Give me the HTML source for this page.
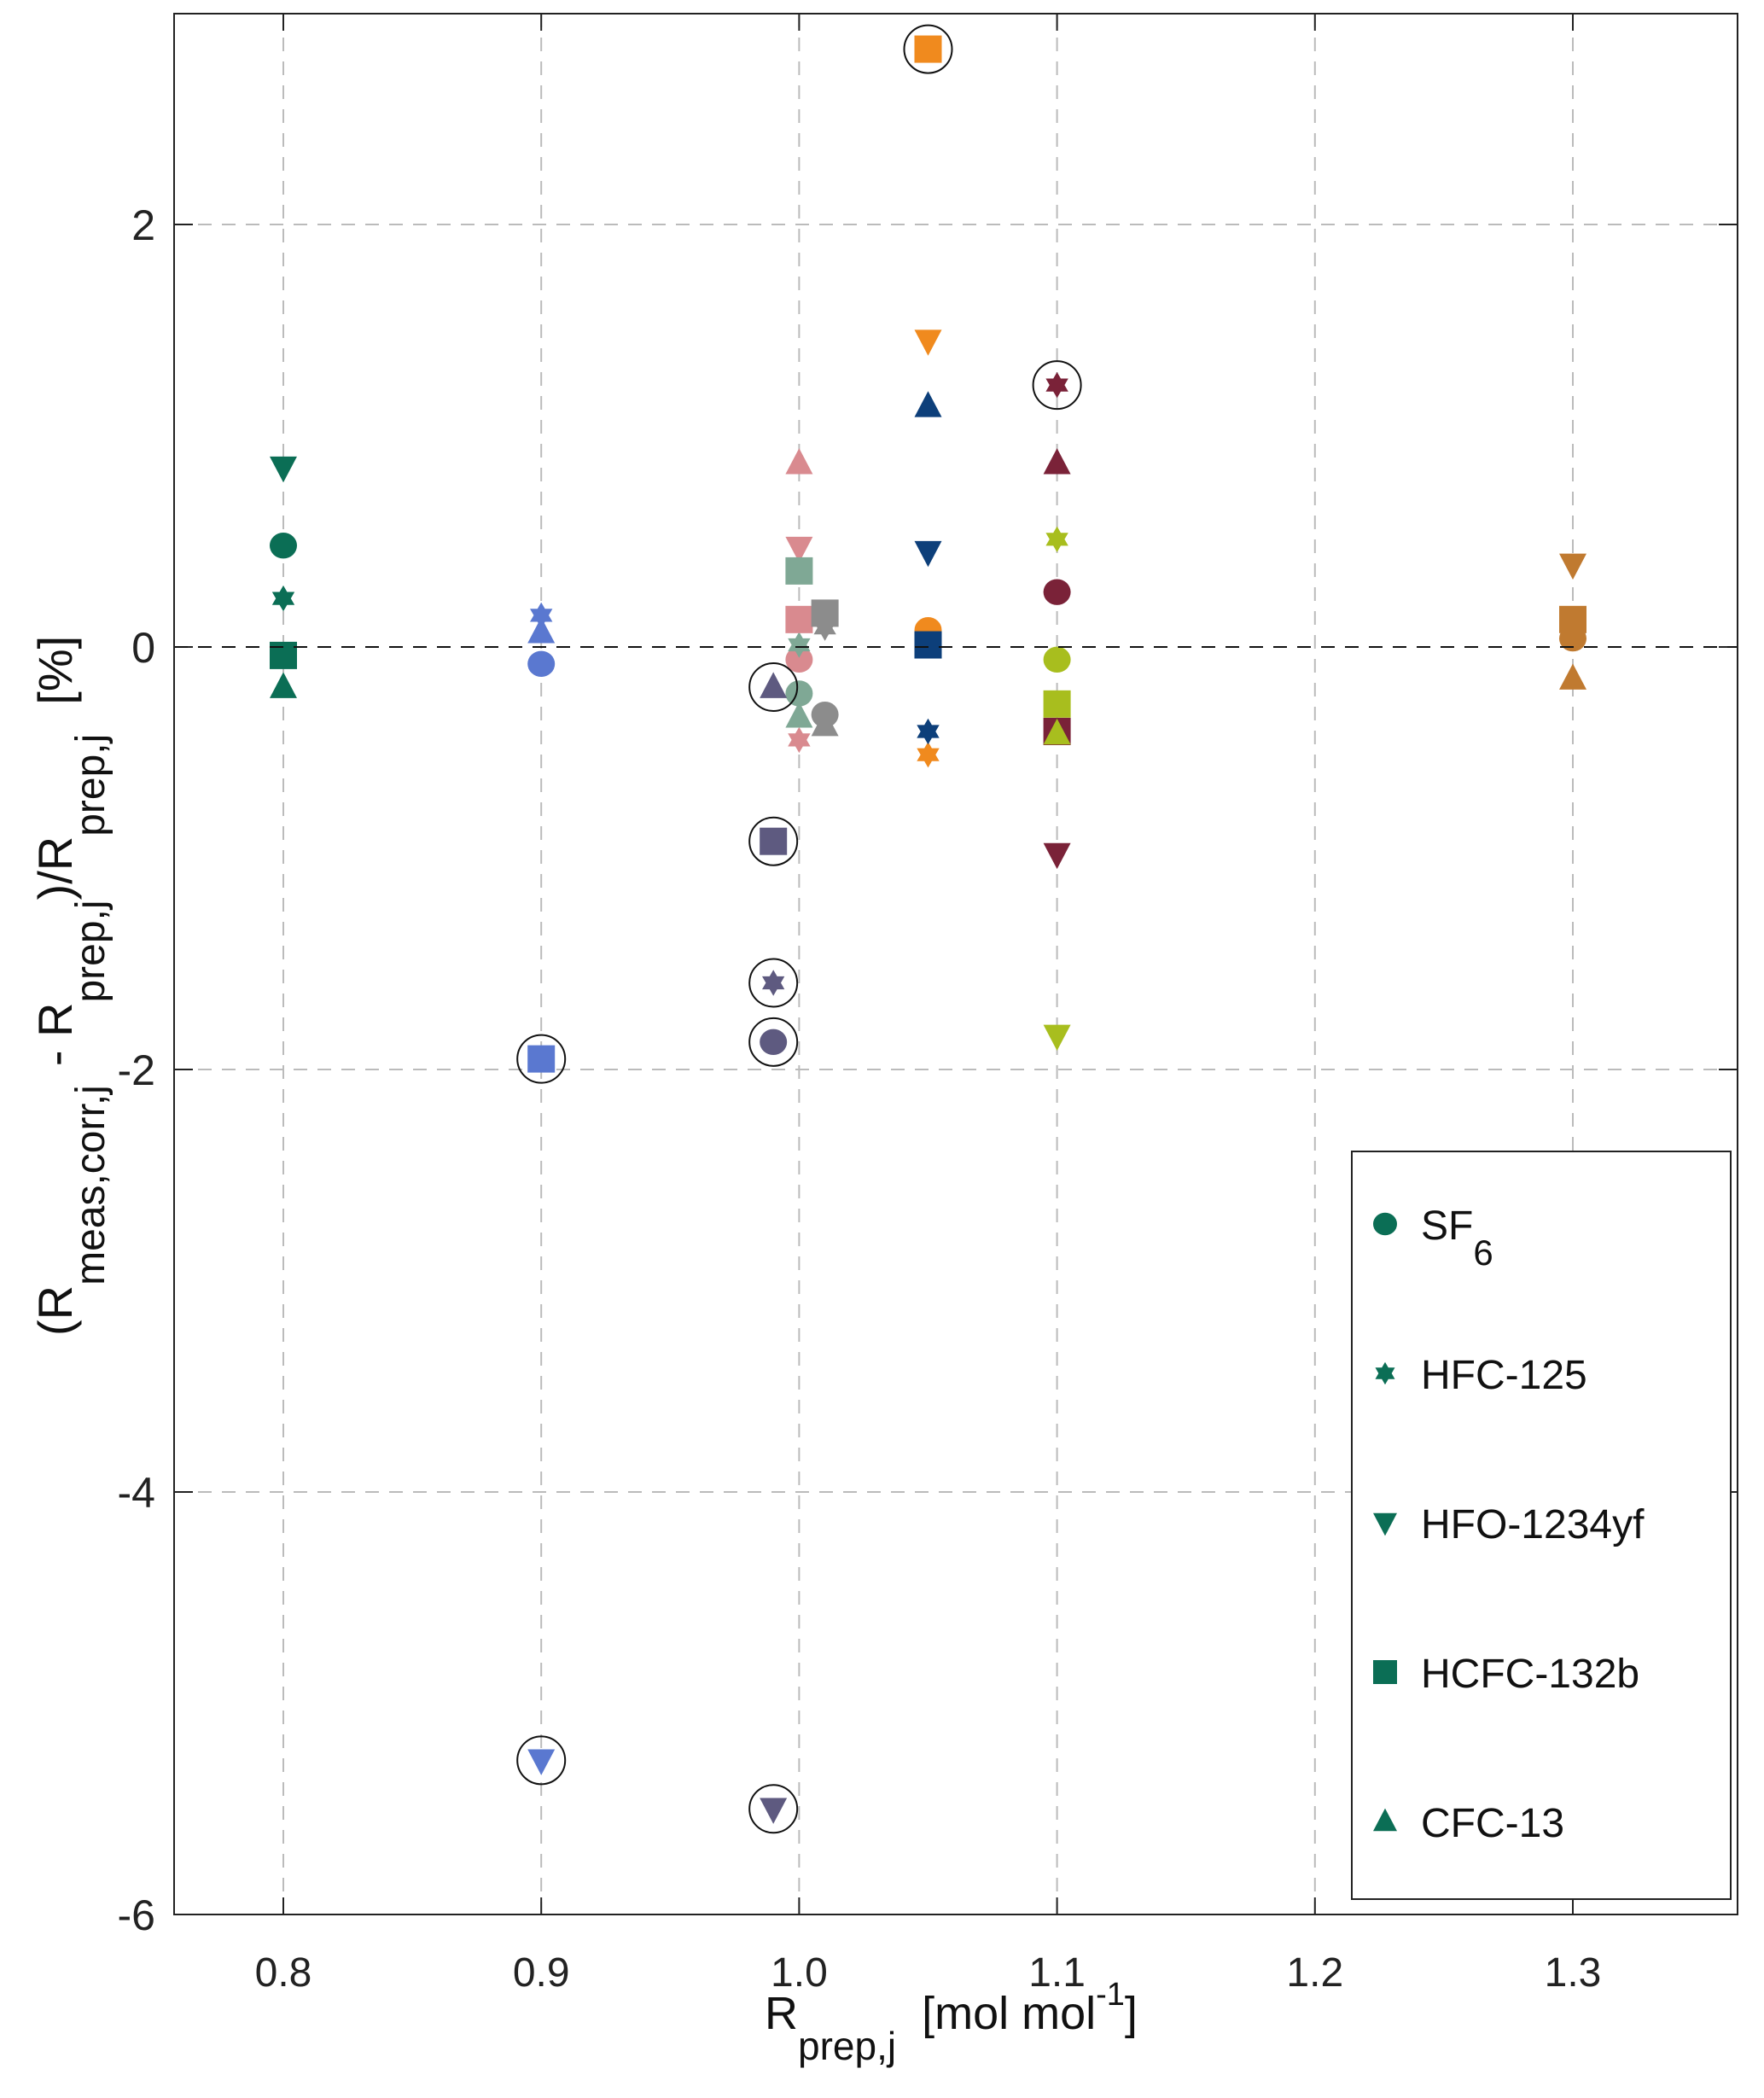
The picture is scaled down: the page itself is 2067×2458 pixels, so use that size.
<!DOCTYPE html>
<html><head><meta charset="utf-8"><style>
html,body{margin:0;padding:0;background:#fff}
svg{display:block;font-family:"Liberation Sans",Arial,sans-serif}
</style></head><body>
<svg id="chart" width="2067" height="2458" viewBox="0 0 2067 2458" xmlns="http://www.w3.org/2000/svg">
<g id="grid"></g>
<g id="marks"></g>
<g id="axes"></g>
<g id="legend"></g>
</svg>
<script>
const xTicks=[0.8,0.9,1.0,1.1,1.2,1.3];
const xTickLabels=["0.8","0.9","1.0","1.1","1.2","1.3"];
const yTicks=[-6,-4,-2,0,2];
const yTickLabels=["-6","-4","-2","0","2"];
const groupX=[0.8,0.9,0.99,1.0,1.0,1.01,1.05,1.05,1.1,1.1,1.3];
const groupColors=["#0b6e55","#5a78d0","#5e5a80","#d98a8f","#7fa895","#8c8c8c","#f08a1e","#0d3f7a","#7a2238","#a8be1e","#c07a30"];
const sf6=[0.48,-0.08,-1.87,-0.06,-0.22,-0.32,0.08,0.01,0.26,-0.06,0.04];
const hfc125=[0.23,0.15,-1.59,-0.44,0.01,0.09,-0.51,-0.40,1.24,0.51,0.05];
const hfo1234yf=[0.85,-5.27,-5.5,0.47,null,null,1.45,0.45,-0.98,-1.84,0.39];
const hcfc132b=[-0.04,-1.95,-0.92,0.13,0.36,0.16,2.83,0.01,-0.40,-0.27,0.13];
const cfc13=[-0.19,0.07,-0.19,0.87,-0.33,-0.37,null,1.14,0.87,-0.41,-0.15];
const circled=[[2,"sf6"],[2,"hfc125"],[2,"hfo"],[2,"hcfc"],[2,"cfc"],[1,"hcfc"],[1,"hfo"],[6,"hcfc"],[8,"hfc125"]];
const legendLabels=["SF","HFC-125","HFO-1234yf","HCFC-132b","CFC-13"];

const L=204,R=2036,T=16,B=2243;
const X0=0.8,XS=3022;
const xs=v=>332+(v-X0)*XS;
const ys=v=>758-v*247.5;
const NS="http://www.w3.org/2000/svg";
function el(t,a,p){const e=document.createElementNS(NS,t);for(const k in a)e.setAttribute(k,a[k]);p.appendChild(e);return e;}
const grid=document.getElementById('grid'),axes=document.getElementById('axes'),marks=document.getElementById('marks'),leg=document.getElementById('legend');

xTicks.forEach((v,i)=>{
 const g=el('line',{x1:xs(v),x2:xs(v),y1:T,y2:B,stroke:'#bbb','stroke-width':2,'stroke-dasharray':'16 12'},grid);
 
 el('line',{x1:xs(v),x2:xs(v),y1:T,y2:T+20,stroke:'#222','stroke-width':2},axes);
 el('line',{x1:xs(v),x2:xs(v),y1:B,y2:B-20,stroke:'#222','stroke-width':2},axes);
 const t=el('text',{x:xs(v),y:B+84,'font-size':48,'text-anchor':'middle',fill:'#222'},axes);t.textContent=xTickLabels[i];
 
});
yTicks.forEach((v,i)=>{
 if(v!==0&&v!==-6){const g=el('line',{x1:L,x2:R,y1:ys(v),y2:ys(v),stroke:'#bbb','stroke-width':2,'stroke-dasharray':'16 12'},grid);
 }
 el('line',{x1:L,x2:L+22,y1:ys(v),y2:ys(v),stroke:'#222','stroke-width':2},axes);
 el('line',{x1:R,x2:R-22,y1:ys(v),y2:ys(v),stroke:'#222','stroke-width':2},axes);
 const t=el('text',{x:L-22,y:ys(v)+18,'font-size':50,'text-anchor':'end',fill:'#222'},axes);t.textContent=yTickLabels[i];
 
});
const zl=el('line',{x1:L,x2:R,y1:ys(0),y2:ys(0),stroke:'#111','stroke-width':2,'stroke-dasharray':'16 12'},axes);

el('rect',{x:L,y:T,width:R-L,height:B-T,fill:'none',stroke:'#222','stroke-width':2},axes);

function marker(type,cx,cy,color,parent,s){
 s=s||16;let e;
 if(type==='sf6') e=el('ellipse',{cx,cy,rx:s,ry:s*0.95,fill:color},parent);
 else if(type==='hcfc') e=el('rect',{x:cx-s,y:cy-s,width:2*s,height:2*s,fill:color},parent);
 else if(type==='hfo') e=el('polygon',{points:`${cx-s},${cy-s*0.8} ${cx+s},${cy-s*0.8} ${cx},${cy+s*1.1}`,fill:color},parent);
 else if(type==='cfc') e=el('polygon',{points:`${cx-s},${cy+s*0.8} ${cx+s},${cy+s*0.8} ${cx},${cy-s*1.1}`,fill:color},parent);
 else {const r=s*0.95,r2=s*0.55;const p=[];for(let k=0;k<12;k++){const a=-Math.PI/2+k*Math.PI/6;const rr=k%2?r2:r;p.push((cx+rr*Math.cos(a)).toFixed(1)+','+(cy+rr*Math.sin(a)).toFixed(1));}
  e=el('polygon',{points:p.join(' '),fill:color},parent);}
 return e;
}
const series=[["sf6",sf6],["hfc125",hfc125],["hfo",hfo1234yf],["hcfc",hcfc132b],["cfc",cfc13]];
series.forEach(([type,vals])=>{
 vals.forEach((v,i)=>{ if(v===null)return;
  const m=marker(type,xs(groupX[i]),ys(v),groupColors[i],marks);
  
  
 });
});
circled.forEach(([i,type])=>{
 const vals=series.find(s=>s[0]===type)[1];
 const c=el('circle',{cx:xs(groupX[i]),cy:ys(vals[i]),r:28,fill:'none',stroke:'#111','stroke-width':2},marks);
 
 
});

const lb=el('rect',{x:1584,y:1349,width:444,height:876,fill:'#fff',stroke:'#222','stroke-width':2},leg);

const ltypes=["sf6","hfc125","hfo","hcfc","cfc"];
ltypes.forEach((tp,k)=>{
 const cy=1434+k*175;
 const m=marker(tp,1623,cy,'#0b6e55',leg,14);
 
 const t=el('text',{x:1665,y:cy+18,'font-size':48,fill:'#111'},leg);
 
 t.textContent=legendLabels[k];
 if(k===0){const s=el('tspan',{dy:30,'font-size':42},t);s.textContent='6';}
});
</script>
<svg style="position:absolute;left:0;top:0" width="2067" height="2458">
<text x="896" y="2377" font-size="54" fill="#111" font-family="Liberation Sans, sans-serif">R<tspan font-size="46" dy="36">prep,j</tspan><tspan dy="-36" dx="30">[mol mol</tspan><tspan font-size="38" dy="-28">-1</tspan><tspan dy="28">]</tspan></text>
<text transform="translate(84,1565) rotate(-90)" font-size="56" fill="#111" font-family="Liberation Sans, sans-serif">(R<tspan font-size="48" dy="38">meas,corr,j</tspan><tspan dy="-38" dx="22">- R</tspan><tspan font-size="48" dy="38">prep,j</tspan><tspan dy="-38">)/R</tspan><tspan font-size="48" dy="38">prep,j</tspan><tspan dy="-38" dx="34">[%]</tspan></text>
</svg>
</body></html>
